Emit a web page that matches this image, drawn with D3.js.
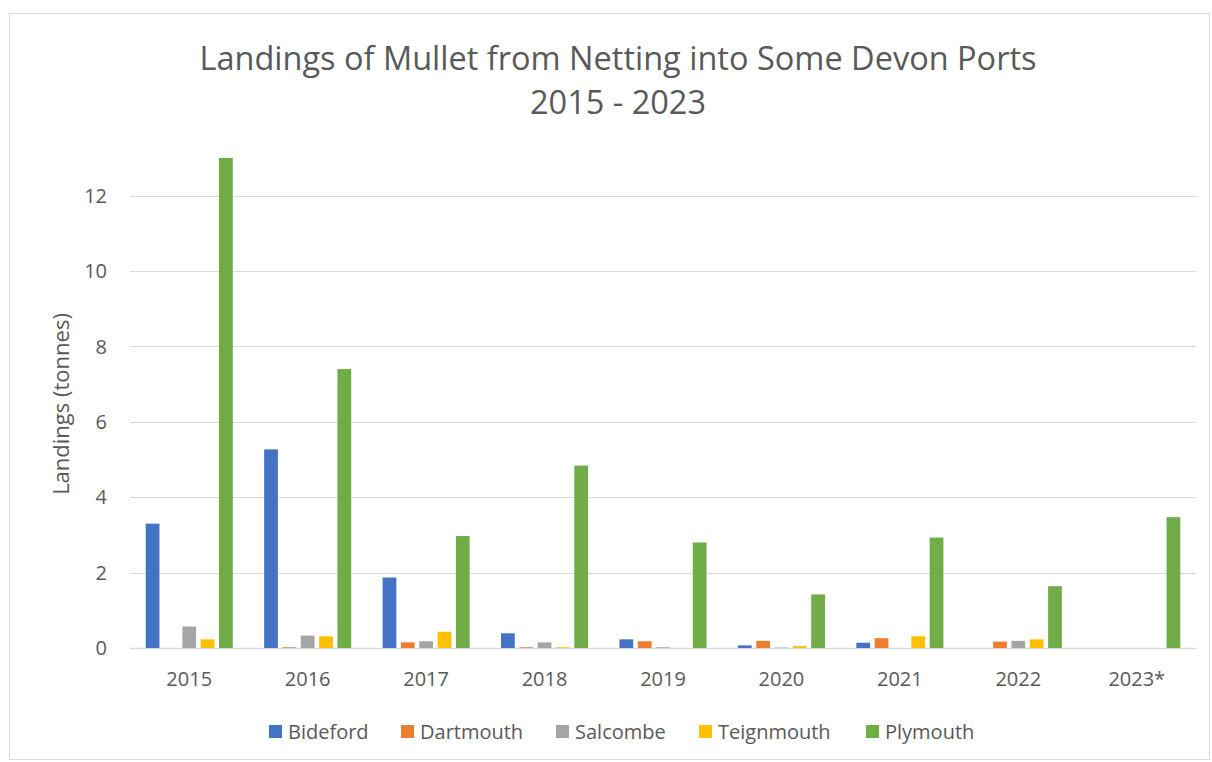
<!DOCTYPE html>
<html>
<head>
<meta charset="utf-8">
<script src="https://cdn.jsdelivr.net/npm/d3@7"></script>
<style>
  body { margin: 0; background: #fff; }
  svg { display: block; }
</style>
</head>
<body>
<svg id="chart" width="1212" height="762"></svg>
<script>
    var font = "Open Sans";
    var textCol = "#595959";

    // data (tonnes)
    var years = ["2015", "2016", "2017", "2018", "2019", "2020", "2021", "2022", "2023*"];
    var ports = ["Bideford", "Dartmouth", "Salcombe", "Teignmouth", "Plymouth"];
    var colours = ["#4472C4", "#ED7D31", "#A5A5A5", "#FFC000", "#70AD47"];
    var bideford = [3.3, 5.27, 1.87, 0.39, 0.23, 0.07, 0.14, 0, 0];
    var dartmouth = [0, 0.02, 0.15, 0.02, 0.18, 0.19, 0.26, 0.17, 0];
    var salcombe = [0.57, 0.33, 0.18, 0.15, 0.02, 0.01, 0, 0.19, 0];
    var teignmouth = [0.23, 0.31, 0.43, 0.02, 0, 0.05, 0.31, 0.23, 0];
    var plymouth = [13.0, 7.40, 2.97, 4.84, 2.80, 1.42, 2.93, 1.64, 3.47];
    var yTicks = [0, 2, 4, 6, 8, 10, 12];

    var series = [bideford, dartmouth, salcombe, teignmouth, plymouth];

    var svg = d3.select("#chart");

    // chart frame
    svg.append("rect")
        .attr("x", 9.5).attr("y", 13.5)
        .attr("width", 1200).attr("height", 746)
        .attr("fill", "#fff")
        .attr("stroke", "#d9d9d9");

    var plotLeft = 130, plotRight = 1196, plotTop = 158, plotBottom = 648;

    var x0 = d3.scaleBand()
        .domain(years)
        .range([plotLeft, plotRight])
        .paddingInner(0.265)
        .paddingOuter(0.1326);

    var x1 = d3.scaleBand()
        .domain(ports)
        .range([0, x0.bandwidth()])
        .paddingInner(0.25);

    var y = d3.scaleLinear()
        .domain([0, 13])
        .range([plotBottom, plotTop]);

    // gridlines
    svg.append("g")
        .selectAll("line")
        .data(yTicks)
        .enter()
        .append("line")
        .attr("x1", plotLeft).attr("x2", plotRight)
        .attr("y1", function (d) { return Math.round(y(d)) + 0.5; })
        .attr("y2", function (d) { return Math.round(y(d)) + 0.5; })
        .attr("stroke", "#d9d9d9")
        .attr("stroke-width", function (d) { return d == 0 ? 1.5 : 1.2; });

    // y tick labels
    svg.append("g")
        .selectAll("text")
        .data(yTicks)
        .enter()
        .append("text")
        .attr("x", 107)
        .attr("y", function (d) { return y(d); })
        .attr("dy", "0.36em")
        .attr("text-anchor", "end")
        .attr("font-family", font)
        .attr("font-size", "20px")
        .attr("fill", textCol)
        .text(function (d) { return d; });

    // bars
    var groups = svg.append("g")
        .selectAll("g")
        .data(years)
        .enter()
        .append("g")
        .attr("transform", function (d) { return "translate(" + x0(d) + ",0)"; });

    groups.selectAll("rect")
        .data(function (d, i) {
            return ports.map(function (p, j) {
                return { port: p, value: series[j][i], colour: colours[j] };
            }).filter(function (b) { return b.value > 0; });
        })
        .enter()
        .append("rect")
        .attr("x", function (d) { return x1(d.port); })
        .attr("y", function (d) { return y(d.value); })
        .attr("width", x1.bandwidth())
        .attr("height", function (d) { return y(0) - y(d.value); })
        .attr("fill", function (d) { return d.colour; });

    // x labels
    svg.append("g")
        .selectAll("text")
        .data(years)
        .enter()
        .append("text")
        .attr("x", function (d) { return x0(d) + x0.bandwidth() / 2; })
        .attr("y", 686)
        .attr("text-anchor", "middle")
        .attr("font-family", font)
        .attr("font-size", "20px")
        .attr("fill", textCol)
        .text(function (d) { return d; });

    // axis title
    svg.append("text")
        .attr("transform", "translate(69,404) rotate(-90)")
        .attr("text-anchor", "middle")
        .attr("font-family", font)
        .attr("font-size", "22px")
        .attr("fill", textCol)
        .text("Landings (tonnes)");

    // title
    var title = svg.append("text")
        .attr("text-anchor", "middle")
        .attr("font-family", font)
        .attr("font-size", "32.5px")
        .attr("fill", textCol);
    title.append("tspan").attr("x", 618).attr("y", 70)
        .text("Landings of Mullet from Netting into Some Devon Ports");
    title.append("tspan").attr("x", 618).attr("y", 114)
        .text("2015 - 2023");

    // legend
    var legendX = [269, 401, 556, 699, 866];
    var legend = svg.append("g")
        .selectAll("g")
        .data(ports)
        .enter()
        .append("g")
        .attr("transform", function (d, i) { return "translate(" + legendX[i] + ",725)"; });
    legend.append("rect")
        .attr("width", 13).attr("height", 13)
        .attr("fill", function (d, i) { return colours[i]; });
    legend.append("text")
        .attr("x", 19)
        .attr("y", 6.5)
        .attr("dy", "0.36em")
        .attr("font-family", font)
        .attr("font-size", "20px")
        .attr("fill", textCol)
        .text(function (d) { return d; });
</script>
</body>
</html>
